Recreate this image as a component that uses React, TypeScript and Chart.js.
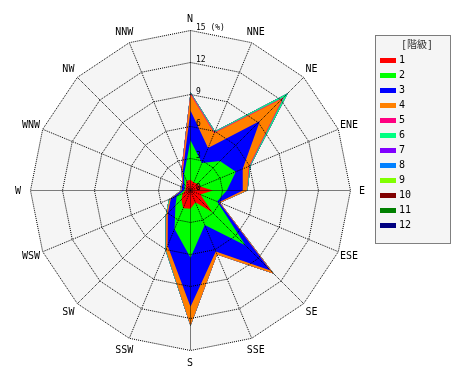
import React, { useEffect, useRef } from "react";
import { Chart, registerables } from "chart.js";

Chart.register(...registerables);

// ---- data ----
const directions = ["N", "NNE", "NE", "ENE", "E", "ESE", "SE", "SSE", "S", "SSW", "SW", "WSW", "W", "WNW", "NW", "NNW"];
const classLabels = ["1", "2", "3", "4", "5", "6", "7", "8", "9", "10", "11", "12"];
const classColors = ["#ff0000", "#00ff00", "#0000ff", "#ff8000", "#ff0080", "#00ff80", "#8000ff", "#0080ff", "#80ff00", "#800000", "#008000", "#000080"];
const tickValues = [0, 3, 6, 9, 12, 15];
const tickUnit = "(%)";
const legendTitle = "[階級]";

// frequency (%) of each class per direction (N, NNE, ..., NNW)
const freq1 = [1.0, 0.8, 0.9, 1.0, 2.1, 1.0, 2.9, 1.2, 1.7, 1.8, 1.2, 0.8, 0.5, 0.5, 0.6, 1.0];
const freq2 = [3.7, 2.0, 3.0, 3.6, 1.3, 1.7, 4.4, 2.3, 4.6, 2.1, 0.8, 0.6, 0.1, 0.1, 0.2, 0.6];
const freq3 = [2.8, 1.5, 5.3, 0.7, 1.5, 0.2, 3.3, 2.7, 4.6, 1.7, 1.0, 0.6, 0.2, 0.3, 0.2, 0.3];
const freq4 = [1.5, 1.5, 3.0, 0.6, 0.4, 0.1, 0.4, 0.3, 1.75, 0.4, 0.2, 0.1, 0.05, 0.05, 0.05, 0.2];
const freq5 = [0.15, 0.1, 0.2, 0.1, 0, 0, 0, 0, 0, 0, 0, 0, 0, 0, 0.05, 0.1];
const freq6 = [0.05, 0.1, 0.5, 0.1, 0.05, 0, 0.05, 0, 0.05, 0.1, 0.1, 0.1, 0.05, 0.05, 0, 0];
const freq7 = [0, 0, 0, 0, 0, 0, 0, 0, 0, 0, 0, 0, 0, 0, 0, 0];
const freq8 = [0, 0, 0, 0, 0, 0, 0, 0, 0, 0, 0, 0, 0, 0, 0, 0];
const freq9 = [0, 0, 0, 0, 0, 0, 0, 0, 0, 0, 0, 0, 0, 0, 0, 0];
const freq10 = [0, 0, 0, 0, 0, 0, 0, 0, 0, 0, 0, 0, 0, 0, 0, 0];
const freq11 = [0, 0, 0, 0, 0, 0, 0, 0, 0, 0, 0, 0, 0, 0, 0, 0];
const freq12 = [0, 0, 0, 0, 0, 0, 0, 0, 0, 0, 0, 0, 0, 0, 0, 0];

const MONO = '"DejaVu Sans Mono", "Liberation Mono", monospace';

export default function App() {
  const ref = useRef<HTMLCanvasElement>(null);

  useEffect(() => {
    const canvas = ref.current;
    if (!canvas) return;
    const freqs = [freq1, freq2, freq3, freq4, freq5, freq6, freq7, freq8, freq9, freq10, freq11, freq12];
    let running = directions.map(() => 0);
    const datasets = freqs.map((f, k) => {
      running = running.map((v, i) => v + f[i]);
      return {
        label: classLabels[k],
        data: running.slice(),
        backgroundColor: classColors[k],
        borderColor: classColors[k],
        borderWidth: 0,
        pointRadius: 0,
        pointHoverRadius: 0,
        fill: "origin",
      };
    });

    const rosePlugin = {
      id: "rose",
      beforeDraw(chart: any) {
        chart.ctx.save();
        chart.ctx.translate(0.5, 0.5);
      },
      beforeDatasetsDraw(chart: any) {
        const s = chart.scales.r;
        const ctx = chart.ctx;
        ctx.save();
        ctx.beginPath();
        directions.forEach((_, i) => {
          const p = s.getPointPositionForValue(i, s.max);
          if (i === 0) ctx.moveTo(p.x, p.y);
          else ctx.lineTo(p.x, p.y);
        });
        ctx.closePath();
        ctx.fillStyle = "#f5f5f5";
        ctx.fill();
        ctx.restore();
      },
      afterDatasetsDraw(chart: any) {
        // dotted spokes on top of the data
        const s = chart.scales.r;
        const ctx = chart.ctx;
        ctx.save();
        ctx.strokeStyle = "#000";
        ctx.lineWidth = 1;
        ctx.setLineDash([1, 1]);
        directions.forEach((_, i) => {
          const p = s.getPointPositionForValue(i, s.max);
          ctx.beginPath();
          ctx.moveTo(s.xCenter, s.yCenter);
          ctx.lineTo(p.x, p.y);
          ctx.stroke();
        });
        ctx.restore();
      },
      afterDraw(chart: any) {
        const ctx = chart.ctx;
        ctx.restore();
        const s = chart.scales.r;
        ctx.save();
        // direction labels
        ctx.fillStyle = "#000";
        ctx.font = `10px ${MONO}`;
        ctx.textAlign = "center";
        ctx.textBaseline = "middle";
        directions.forEach((d, i) => {
          const p = s.getPointPosition(i, s.drawingArea + 12);
          ctx.fillText(d, p.x, p.y + 1);
        });
        // radial tick labels
        ctx.font = `8px ${MONO}`;
        ctx.textAlign = "left";
        ctx.textBaseline = "alphabetic";
        tickValues.forEach((v) => {
          const p = s.getPointPositionForValue(0, v);
          const txt = v === s.max ? `${v} ${tickUnit}` : `${v}`;
          ctx.fillText(txt, p.x + 6, p.y);
        });
        // legend box
        const bx = 375, by = 35, bw = 75, bh = 208;
        ctx.fillStyle = "#f5f5f5";
        ctx.fillRect(bx, by, bw, bh);
        ctx.setLineDash([1, 1]);
        ctx.strokeStyle = "#000";
        ctx.lineWidth = 1;
        ctx.strokeRect(bx + 0.5, by + 0.5, bw, bh);
        ctx.setLineDash([]);
        ctx.fillStyle = "#333";
        ctx.font = `10px ${MONO}, "Noto Sans CJK JP"`;
        ctx.textAlign = "center";
        ctx.textBaseline = "middle";
        ctx.fillText(legendTitle, bx + 42, by + 10);
        ctx.font = `10px ${MONO}`;
        ctx.textAlign = "left";
        chart.data.datasets.forEach((ds: any, k: number) => {
          const y = by + 25 + k * 15;
          ctx.fillStyle = ds.backgroundColor;
          ctx.fillRect(bx + 5, y - 2, 16, 5);
          ctx.fillStyle = "#000";
          ctx.fillText(ds.label, bx + 24, y);
        });
        ctx.restore();
      },
    };

    const chart = new Chart(canvas, {
      type: "radar",
      data: { labels: directions, datasets: datasets as any },
      options: {
        animation: false,
        responsive: false,
        events: [],
        layout: { padding: { left: 30, top: 30, right: 120, bottom: 30 } },
        elements: { line: { tension: 0, borderWidth: 0 } },
        plugins: { legend: { display: false }, tooltip: { enabled: false } },
        scales: {
          r: {
            min: 0,
            max: 15,
            startAngle: 0,
            ticks: { display: false, stepSize: 3 },
            pointLabels: { display: false },
            grid: { color: "#000", lineWidth: 1, z: 1 },
            border: { dash: [1, 1] },
            angleLines: { display: false },
          },
        },
      } as any,
      plugins: [rosePlugin],
    });
    return () => chart.destroy();
  }, []);

  return (
    <div style={{ position: "absolute", left: 0, top: 0, width: 470, height: 380, background: "#fff" }}>
      <canvas ref={ref} width={470} height={380} />
    </div>
  );
}
